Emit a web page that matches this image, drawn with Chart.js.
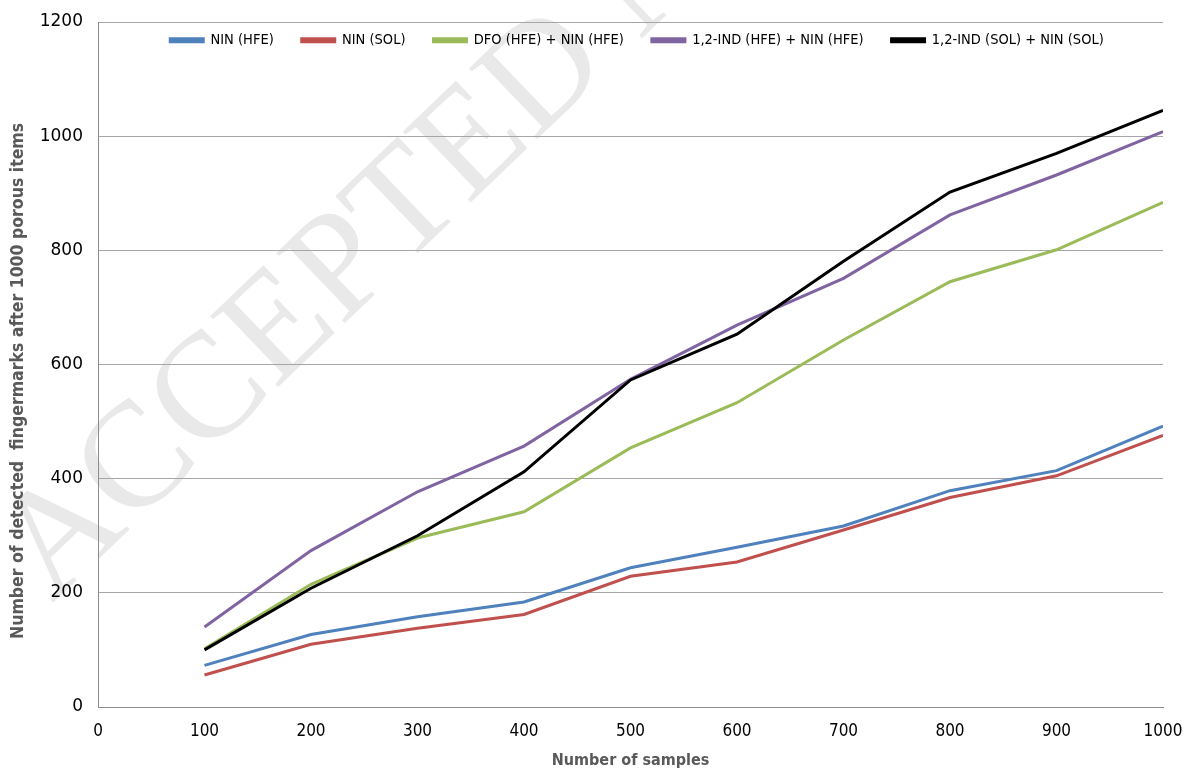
<!DOCTYPE html>
<html>
<head>
<meta charset="utf-8">
<title>Detected fingermarks</title>
<script src="https://cdn.jsdelivr.net/npm/chart.js@4.4.1/dist/chart.umd.min.js"></script>
<style>
  html, body { margin: 0; padding: 0; background: #fff; }
  #wrap { width: 1187px; height: 772px; }
</style>
</head>
<body>
<div id="wrap"><canvas id="myChart" width="1187" height="772"></canvas></div>
<script>
// x values (number of samples)
const samples = [100, 200, 300, 400, 500, 600, 700, 800, 900, 1000];

// series
const ninHfe = [73, 127, 158, 184, 244, 280, 317, 379, 414, 492];
const ninSol = [56, 110, 138, 162, 229, 254, 310, 367, 405, 476];
const dfoNin = [102, 215, 296, 342, 454, 533, 643, 745, 801, 884];
const indHfe = [140, 274, 377, 457, 574, 669, 751, 862, 932, 1008];
const indSol = [100, 208, 300, 412, 573, 653, 781, 902, 970, 1045];

const seriesNames = ['NIN (HFE)', 'NIN (SOL)', 'DFO (HFE) + NIN (HFE)', '1,2-IND (HFE) + NIN (HFE)', '1,2-IND (SOL) + NIN (SOL)'];
const seriesColors = ['#4f81bd', '#c0504d', '#9bbb59', '#8064a2', '#000000'];
const seriesValues = [ninHfe, ninSol, dfoNin, indHfe, indSol];

const narrow = "'DejaVu Sans Condensed', 'DejaVu Sans', sans-serif";

// pair x with y for the linear x scale
function toPoints(vals) {
    return samples.map((x, i) => ({ x: x, y: vals[i] }));
}

const datasets = seriesValues.map((vals, i) => ({
    label: seriesNames[i],
    data: toPoints(vals),
    borderColor: seriesColors[i],
    backgroundColor: seriesColors[i],
    borderWidth: 3,
    pointRadius: 0,
    tension: 0,
    order: seriesValues.length - i // later series drawn on top, like Excel
}));

// faint watermark behind the plot
const watermark = {
    id: 'watermark',
    beforeDraw(chart) {
        const c = chart.ctx;
        c.save();
        c.translate(25, 575);
        c.rotate(-0.764);
        c.font = "150px 'Liberation Serif', 'DejaVu Serif', serif";
        c.fillStyle = '#e9e9e9';
        c.fillText('ACCEPTED MANUSCRIPT', 0, 0);
        c.restore();
    }
};

// legend sits inside the plot, in one row along its top
const legendInPlot = {
    id: 'legendInPlot',
    beforeUpdate(chart) {
        const lg = chart.legend;
        if (lg && !lg._flat) {
            const fit = lg.fit;
            lg.fit = function () { fit.call(this); this.height = 0; };
            lg._flat = true;
        }
    },
    afterLayout(chart) {
        const lg = chart.legend;
        const area = chart.chartArea;
        lg.left = area.left + 13;
        lg.right = area.right;
        lg.width = lg.right - lg.left;
        lg.top = area.top - 17;
        lg.height = 60;
        lg.bottom = lg.top + lg.height;
    }
};

const ctx = document.getElementById('myChart').getContext('2d');
const chart = new Chart(ctx, {
    type: 'line',
    data: { datasets: datasets },
    plugins: [watermark, legendInPlot],
    options: {
        responsive: false,
        animation: false,
        layout: { padding: { left: 0, right: 24, top: 22, bottom: 0 } },
        plugins: {
            tooltip: { enabled: false },
            legend: {
                position: 'top',
                align: 'center',
                labels: {
                    boxWidth: 33,
                    boxHeight: 3,
                    padding: 28,
                    color: '#000',
                    font: { family: narrow, size: 14.5 },
                    sort: (a, b) => a.datasetIndex - b.datasetIndex
                }
            }
        },
        scales: {
            x: {
                type: 'linear',
                min: 0,
                max: 1000,
                ticks: {
                    stepSize: 100,
                    padding: 14,
                    color: '#000',
                    font: { family: narrow, size: 17 },
                    callback: (v) => String(v)
                },
                grid: { display: false, drawTicks: false },
                border: { color: '#8c8c8c', width: 1 },
                title: {
                    display: true,
                    text: 'Number of samples',
                    color: '#595959',
                    font: { family: narrow, size: 16, weight: 'bold' },
                    padding: { top: 8, bottom: 2 }
                },
                afterFit(scale) {
                    scale.height = 65;
                    scale.paddingLeft = 0;
                    scale.paddingRight = 0;
                }
            },
            y: {
                min: 0,
                max: 1200,
                ticks: {
                    stepSize: 200,
                    padding: 15,
                    color: '#000',
                    font: { family: "'DejaVu Sans', sans-serif", size: 17 },
                    callback: (v) => String(v)
                },
                grid: { color: '#a6a6a6', lineWidth: 1, drawTicks: false },
                border: { color: '#8c8c8c', width: 1 },
                title: {
                    display: true,
                    // trailing spaces push the text down a little, as in the original
                    text: 'Number of detected  fingermarks after 1000 porous items      ',
                    color: '#595959',
                    font: { family: narrow, size: 17.5, weight: 'bold' },
                    padding: { top: 8, bottom: 0 }
                },
                afterFit(scale) {
                    scale.width = 98;
                    scale.paddingTop = 0;
                    scale.paddingBottom = 0;
                }
            }
        }
    }
});
</script>
</body>
</html>
